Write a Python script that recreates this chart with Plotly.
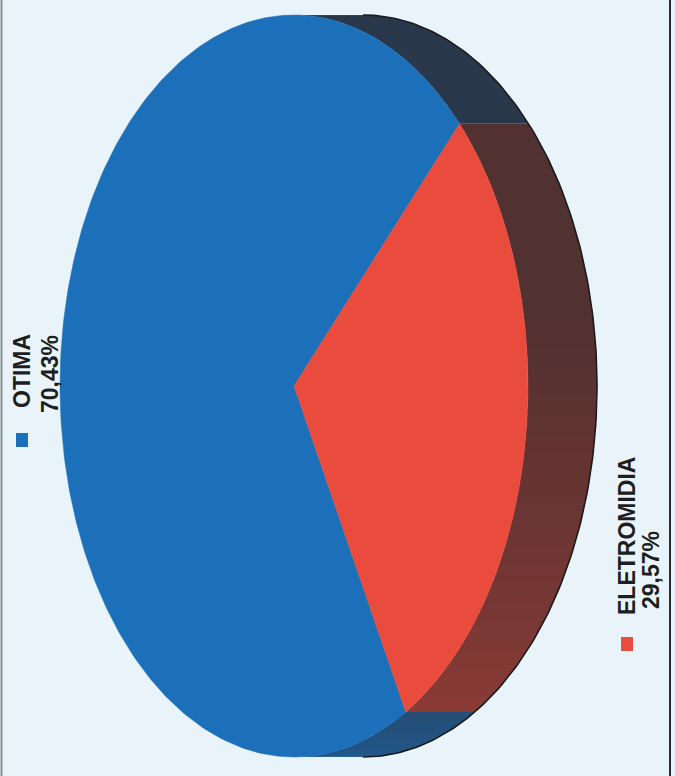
import numpy as np
import plotly.graph_objects as go

# ---- data ----
labels = ["OTIMA", "ELETROMIDIA"]
values = [70.43, 29.57]
pct_text = ["70,43%", "29,57%"]
top_colors = ["#1c70ba", "#e94b3c"]

# ---- layout / style constants ----
W, H = 675, 776
CX, CY = 294, 386      # pixel centre of the pie's top face
RX, RY = 234, 371      # pixel semi-axes of the top face
DEPTH = 69             # pixel depth of the extrusion (to the right)
START = 45.0           # start angle (deg, counter-clockwise)
BG = "#e9f4fa"
DARK = np.array([44, 42, 46])

x_range = [(0 - CX) / RX, (W - CX) / RX]
y_range = [(CY - H) / RY, (CY - 0) / RY]
d = DEPTH / RX


def hex2rgb(h):
    h = h.lstrip("#")
    return np.array([int(h[i:i + 2], 16) for i in (0, 2, 4)])


def side_color(base, theta):
    k = np.interp(theta, [-90, -60, 10, 90], [0.3, 0.5, 0.8, 0.8])
    c = (1 - k) * hex2rgb(base) + k * DARK
    return "rgb(%d,%d,%d)" % tuple(np.round(c).astype(int))


fig = go.Figure()

# slice angular ranges from the data
total = sum(values)
ranges = []
a = START
for v in values:
    span = 360.0 * v / total
    ranges.append((a, a + span))
    a += span

# ---- side (extrusion) strips ----
STEP = 1.5
for (a0, a1), col in zip(ranges, top_colors):
    n = max(2, int(np.ceil((a1 - a0) / STEP)))
    edges = np.linspace(a0, a1, n + 1)
    for i, (t0, t1) in enumerate(zip(edges[:-1], edges[1:])):
        tm = (t0 + t1) / 2
        tmn = ((tm + 180) % 360) - 180
        if np.cos(np.radians(tmn)) <= 0:
            continue
        t1e = t1 + (0.8 * STEP if i < n - 1 else 0.0)  # overlap to hide seams
        th = np.radians(np.linspace(t0, t1e, 5))
        xs = np.concatenate([np.cos(th), np.cos(th[::-1]) + d])
        ys = np.concatenate([np.sin(th), np.sin(th[::-1])])
        c = side_color(col, tmn)
        fig.add_trace(go.Scatter(x=xs, y=ys, mode="lines", fill="toself",
                                 fillcolor=c, line=dict(width=0),
                                 hoverinfo="skip", showlegend=False))

# outline of the outer edge
th = np.radians(np.linspace(-90, 90, 200))
fig.add_trace(go.Scatter(x=np.cos(th) + d, y=np.sin(th), mode="lines",
                         line=dict(color="#1b1b1d", width=1.6),
                         hoverinfo="skip", showlegend=False))

# ---- top face slices ----
for (a0, a1), col, lab in zip(ranges, top_colors, labels):
    th = np.radians(np.linspace(a0, a1, 300))
    xs = np.concatenate([[0], np.cos(th), [0]])
    ys = np.concatenate([[0], np.sin(th), [0]])
    fig.add_trace(go.Scatter(x=xs, y=ys, mode="lines", fill="toself",
                             fillcolor=col, line=dict(color=col, width=0.5),
                             name=lab, hoverinfo="skip", showlegend=False))

# ---- labels (rotated, as in the scanned page) ----
FONT = dict(family="Liberation Sans, Arial, sans-serif", size=23, color="#1e1e1e")
label_pos = [  # (name x, pct x, name bottom y, pct bottom y, square centre y)
    (22, 50, 410, 415, 440),
    (627, 651, 617, 611, 644),
]
for lab, pt, col, (xn, xp, yn, yp, ys) in zip(labels, pct_text, top_colors, label_pos):
    fig.add_annotation(text="<b>%s</b>" % lab, textangle=-90, showarrow=False,
                       xref="paper", yref="paper", x=xn / W, y=1 - yn / H,
                       xanchor="center", yanchor="bottom", font=FONT)
    fig.add_annotation(text="<b>%s</b>" % pt, textangle=-90, showarrow=False,
                       xref="paper", yref="paper", x=xp / W, y=1 - yp / H,
                       xanchor="center", yanchor="bottom", font=FONT)
    fig.add_shape(type="rect", xref="paper", yref="paper",
                  x0=(xn - 6) / W, x1=(xn + 6) / W,
                  y0=1 - (ys + 7) / H, y1=1 - (ys - 7) / H,
                  fillcolor=col, line=dict(width=0))

# page frame lines
fig.add_shape(type="line", xref="paper", yref="paper", x0=1.5 / W, x1=1.5 / W,
              y0=0, y1=1, line=dict(color="#8a8f94", width=2))
fig.add_shape(type="line", xref="paper", yref="paper", x0=670 / W, x1=670 / W,
              y0=0, y1=1, line=dict(color="#2a2a2a", width=2))

fig.update_xaxes(range=x_range, visible=False, fixedrange=True)
fig.update_yaxes(range=y_range, visible=False, fixedrange=True)
fig.update_layout(width=W, height=H, margin=dict(l=0, r=0, t=0, b=0),
                  paper_bgcolor=BG, plot_bgcolor=BG, showlegend=False)

fig.write_html("out.html")
